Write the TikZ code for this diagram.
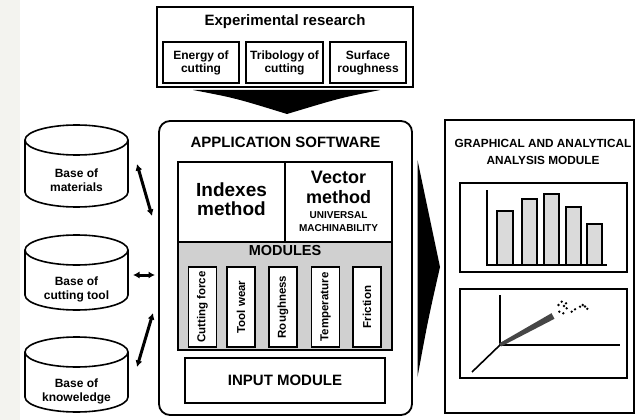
\documentclass[tikz,border=0pt]{standalone}
\usepackage{fontspec}
\setmainfont{Liberation Sans}
\usetikzlibrary{arrows.meta}
\definecolor{modgray}{RGB}{208,208,208}
\definecolor{bargray}{RGB}{218,218,218}
\definecolor{stripgray}{RGB}{243,243,239}
\definecolor{bandgray}{RGB}{70,70,70}
\tikzset{
  box/.style={draw, line width=1.6pt, inner sep=0pt, align=center, font=\bfseries},
  plain/.style={inner sep=0pt, align=center, font=\bfseries},
  cylbox/.style={inner sep=0pt, minimum width=103pt},
  cylline/.style={draw, line width=1.6pt, fill=white},
  dbl/.style={line width=3pt, {Latex[length=6.5pt,width=7pt]}-{Latex[length=6.5pt,width=7pt]}},
  modbox/.style={box, fill=white, minimum width=28pt, minimum height=80pt},
  modtext/.style={plain, rotate=90, font=\bfseries\fontsize{11.5}{12}\selectfont},
  chartline/.style={line width=1.6pt},
  bar/.style={draw, line width=1.4pt, fill=bargray},
}
\begin{document}
\begin{tikzpicture}[x=1pt,y=-1pt]
\useasboundingbox (0,0) rectangle (635,420);
\fill[white] (0,0) rectangle (635,420);
\fill[stripgray] (0,0) rectangle (20,420);

% Experimental research
\node[box, minimum width=256pt, minimum height=80pt] (exp) at (285,47) {};
\node[plain, font=\bfseries\fontsize{15}{16}\selectfont] (expt) at (285,22) {Experimental research};
\node[box, minimum width=76pt, minimum height=41pt, font=\bfseries\fontsize{12}{13}\selectfont] (e1) at (201,62.5) {Energy of\\cutting};
\node[box, minimum width=77pt, minimum height=41pt, font=\bfseries\fontsize{12}{13}\selectfont] (e2) at (284.5,62.5) {Tribology of\\cutting};
\node[box, minimum width=76pt, minimum height=41pt, font=\bfseries\fontsize{12}{13}\selectfont] (e3) at (368,62.5) {Surface\\roughness};

% down arrow
\coordinate (dl) at (193,90);
\coordinate (dr) at (380,90);
\coordinate (dt) at (287,114);
\fill (dl) -- (dr) .. controls (340,98) .. (dt) .. controls (235,98) .. (dl) -- cycle;

% Application software
\node[draw, line width=1.8pt, rounded corners=11pt, minimum width=253pt, minimum height=294pt, inner sep=0pt] (app) at (285.5,268) {};
\node[plain, font=\bfseries\fontsize{15}{16}\selectfont] (appt) at (285.5,142) {APPLICATION SOFTWARE};
\node[box, minimum width=107pt, minimum height=80pt] (idx) at (231.5,202) {};
\node[plain, font=\bfseries\fontsize{19}{19}\selectfont] (idxt) at (231.5,199) {Indexes\\method};
\node[box, minimum width=107pt, minimum height=80pt] (vec) at (338.5,202) {};
\node[plain, font=\bfseries\fontsize{18}{20}\selectfont] (vect) at (338.5,187.5) {Vector\\method};
\node[plain, font=\bfseries\fontsize{10}{12.5}\selectfont] (unit) at (338.5,221.5) {UNIVERSAL\\MACHINABILITY};
\node[box, fill=modgray, minimum width=214pt, minimum height=108pt] (mods) at (285,296) {};
\node[plain, font=\bfseries\fontsize{14.5}{15}\selectfont] (modt) at (285,251) {MODULES};
\node[modbox] (m1) at (202.5,307) {};
\node[modbox] (m2) at (241,307) {};
\node[modbox] (m3) at (283,307) {};
\node[modbox] (m4) at (325.5,307) {};
\node[modbox] (m5) at (367,307) {};
\node[modtext] at (m1) {Cutting force};
\node[modtext] at (m2) {Tool wear};
\node[modtext] at (m3) {Roughness};
\node[modtext] at (m4) {Temperature};
\node[modtext] at (m5) {Friction};
\node[box, minimum width=200pt, minimum height=45pt, font=\bfseries\fontsize{15}{16}\selectfont] (inp) at (285,380.5) {INPUT MODULE};

% cylinders
\node[cylbox, minimum height=82pt] (c1) at (76.5,166) {};
\draw[cylline] (25,140) -- (25,192) arc[start angle=180,end angle=0,x radius=51.5,y radius=15] -- (128,140);
\draw[line width=1.6pt] (76.5,140) ellipse[x radius=51.5,y radius=15];
\node[plain, font=\bfseries\fontsize{12}{14}\selectfont] (c1t) at (76.5,180) {Base of\\materials};

\node[cylbox, minimum height=75pt] (c2) at (76.5,272.5) {};
\draw[cylline] (25,250) -- (25,295) arc[start angle=180,end angle=0,x radius=51.5,y radius=15] -- (128,250);
\draw[line width=1.6pt] (76.5,250) ellipse[x radius=51.5,y radius=15];
\node[plain, font=\bfseries\fontsize{12}{14}\selectfont] (c2t) at (76.5,289) {Base of\\cutting tool};

\node[cylbox, minimum height=75pt] (c3) at (76.5,374.5) {};
\draw[cylline] (25,352) -- (25,397) arc[start angle=180,end angle=0,x radius=51.5,y radius=15] -- (128,352);
\draw[line width=1.6pt] (76.5,352) ellipse[x radius=51.5,y radius=15];
\node[plain, font=\bfseries\fontsize{12}{14}\selectfont] (c3t) at (76.5,391) {Base of\\knoweledge};

% connectors
\coordinate (a1s) at (137,164);
\coordinate (a1e) at (152,216);
\coordinate (a2s) at (133,275);
\coordinate (a2e) at (155,275);
\coordinate (a3s) at (137,367);
\coordinate (a3e) at (153,313);
\draw[dbl] (a1s) -- (a1e);
\draw[dbl] (a2s) -- (a2e);
\draw[dbl] (a3s) -- (a3e);

% right arrow
\coordinate (rt) at (417.5,160);
\coordinate (rb) at (417.5,377);
\coordinate (rp) at (440,267);
\fill (rt) .. controls (428,210) .. (rp) .. controls (428,320) .. (rb) -- cycle;

% analysis module
\node[draw, line width=1.8pt, minimum width=189pt, minimum height=293pt, inner sep=0pt] (ana) at (539.5,266.5) {};
\node[plain, font=\bfseries\fontsize{11.8}{17}\selectfont] (anat) at (543,151.5) {GRAPHICAL AND ANALYTICAL\\ANALYSIS MODULE};
\node[box, minimum width=167pt, minimum height=89pt] (ch1) at (543.5,227.5) {};
\node[box, minimum width=167pt, minimum height=89pt] (ch2) at (543.5,333.5) {};

% bar chart
\draw[bar] (497,265) rectangle (513,211);
\draw[bar] (522,265) rectangle (537,199);
\draw[bar] (544,265) rectangle (559,194);
\draw[bar] (566,265) rectangle (581,207);
\draw[bar] (587,265) rectangle (602,224);
\draw[chartline] (487,190) -- (487,265) -- (607,265);

% line chart
\coordinate (o) at (500,345);
\draw[chartline] (500,295) -- (o) -- (620,345);
\draw[chartline] (o) -- (472,372);
\fill[bandgray] (499,343.5) -- (551.5,313.2) -- (554.5,318.8) -- (501,346.5) -- cycle;
\foreach \p in {(559.3,311.7),(561.7,301.7),(564,306),(566,303.3),(566.7,308.3),(563.3,313.3),(571.7,311.7),(575,309.3),(580,306.7),(582.7,305),(585,306.5),(587.3,308.8),(558.5,305)}
  \fill \p circle[radius=1.3];
\end{tikzpicture}
\end{document}
